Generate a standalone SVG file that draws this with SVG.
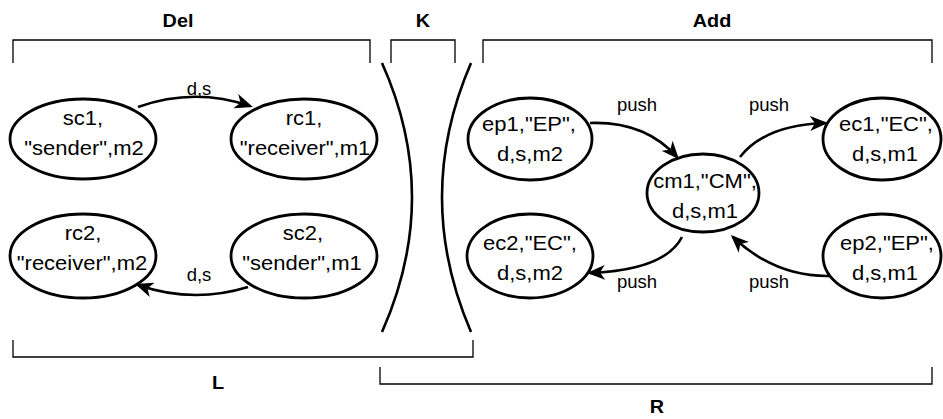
<svg xmlns="http://www.w3.org/2000/svg" width="943" height="419" viewBox="0 0 943 419">
<style>
.bg{fill:#ffffff}
.node{fill:#ffffff;stroke:#000000;stroke-width:2.8}
.t{font-family:"Liberation Sans",Arial,Helvetica,sans-serif;font-size:20px;text-anchor:middle;fill:#000000}
.el{font-family:"Liberation Sans",Arial,Helvetica,sans-serif;font-size:18.5px;text-anchor:middle;fill:#000000}
.b{font-family:"Liberation Sans",Arial,Helvetica,sans-serif;font-size:18px;font-weight:bold;text-anchor:middle;fill:#000000}
.br{fill:none;stroke:#000000;stroke-width:1.3}
.k{fill:none;stroke:#000000;stroke-width:2.6}
.e{fill:none;stroke:#000000;stroke-width:2.6;marker-end:url(#arr)}
</style>
<defs>
<marker id="arr" markerUnits="userSpaceOnUse" viewBox="0 0 18 15" markerWidth="18" markerHeight="15" refX="15" refY="7.5" orient="auto">
<path d="M0,0 L18,7.5 L0,15 L5,7.5 Z" fill="#000000"/>
</marker>
</defs>
<rect class="bg" x="0" y="0" width="943" height="419"/>

<g id="brackets">
<path class="br" d="M13,63 V40 H370 V63"/>
<path class="br" d="M391,63 V40 H455 V63"/>
<path class="br" d="M483,63 V40 H932 V63"/>
<path class="br" d="M13,340 V357 H473 V340"/>
<path class="br" d="M380,367 V384 H932 V367"/>
<text class="b" transform="translate(178,27) scale(1.1,1)">Del</text>
<text class="b" transform="translate(423,27) scale(1.1,1)">K</text>
<text class="b" transform="translate(712,27) scale(1.1,1)">Add</text>
<text class="b" transform="translate(218,389) scale(1.1,1)">L</text>
<text class="b" transform="translate(657,413) scale(1.1,1)">R</text>
</g>

<g id="k-curves">
<path class="k" d="M382,63 Q442,197 382,332"/>
<path class="k" d="M471,63 Q413,197 471,332"/>
</g>

<g id="connectors">
<path class="e" d="M138,107 Q194,87 250,106"/>
<text class="el" x="199" y="95">d,s</text>
<path class="e" d="M248,287 Q193,304 138,285"/>
<text class="el" x="199" y="281">d,s</text>
<path class="e" d="M590,123 Q645,121 677,157"/>
<text class="el" x="637" y="111">push</text>
<path class="e" d="M740,157 Q765,125 825,123"/>
<text class="el" x="769" y="111">push</text>
<path class="e" d="M682,237 Q665,270 590,273"/>
<text class="el" x="637" y="288">push</text>
<path class="e" d="M830,276 Q775,277 733,237"/>
<text class="el" x="769" y="288">push</text>
</g>

<g id="sc1">
<ellipse class="node" cx="83" cy="139" rx="73" ry="40"/>
<text class="t" transform="translate(83,125) scale(1.1,1)">sc1,</text>
<text class="t" transform="translate(84,155) scale(1.1,1)">"sender",m2</text>
</g>
<g id="rc1">
<ellipse class="node" cx="304" cy="139" rx="73" ry="40"/>
<text class="t" transform="translate(304,125) scale(1.1,1)">rc1,</text>
<text class="t" transform="translate(305,155) scale(1.1,1)">"receiver",m1</text>
</g>
<g id="rc2">
<ellipse class="node" cx="83" cy="256" rx="73" ry="42"/>
<text class="t" transform="translate(83,240) scale(1.1,1)">rc2,</text>
<text class="t" transform="translate(82,270) scale(1.1,1)">"receiver",m2</text>
</g>
<g id="sc2">
<ellipse class="node" cx="304" cy="256" rx="73" ry="42"/>
<text class="t" transform="translate(303,240) scale(1.1,1)">sc2,</text>
<text class="t" transform="translate(302,270) scale(1.1,1)">"sender",m1</text>
</g>
<g id="ep1">
<ellipse class="node" cx="530" cy="139" rx="62" ry="41"/>
<text class="t" transform="translate(529,131) scale(1.1,1)">ep1,"EP",</text>
<text class="t" transform="translate(530,161) scale(1.1,1)">d,s,m2</text>
</g>
<g id="cm1">
<ellipse class="node" cx="703" cy="193" rx="56" ry="39"/>
<text class="t" transform="translate(705,188) scale(1.1,1)">cm1,"CM",</text>
<text class="t" transform="translate(705,218) scale(1.1,1)">d,s,m1</text>
</g>
<g id="ec1">
<ellipse class="node" cx="882" cy="139" rx="59" ry="41"/>
<text class="t" transform="translate(886,131) scale(1.1,1)">ec1,"EC",</text>
<text class="t" transform="translate(885,161) scale(1.1,1)">d,s,m1</text>
</g>
<g id="ec2">
<ellipse class="node" cx="530" cy="256" rx="63" ry="42"/>
<text class="t" transform="translate(530,250) scale(1.1,1)">ec2,"EC",</text>
<text class="t" transform="translate(530,280) scale(1.1,1)">d,s,m2</text>
</g>
<g id="ep2">
<ellipse class="node" cx="882" cy="256" rx="59" ry="42"/>
<text class="t" transform="translate(887,250) scale(1.1,1)">ep2,"EP",</text>
<text class="t" transform="translate(885,280) scale(1.1,1)">d,s,m1</text>
</g>
</svg>
